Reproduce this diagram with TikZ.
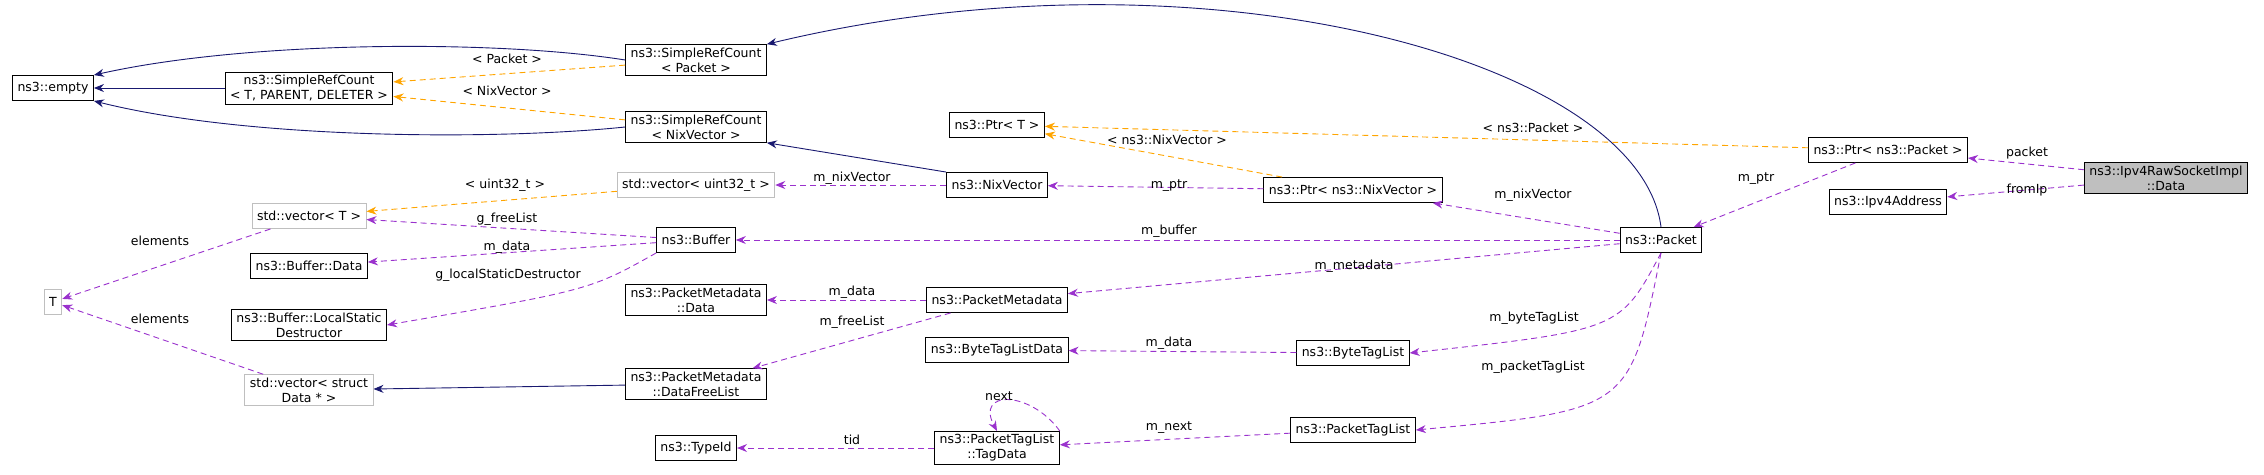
\documentclass[tikz,border=0pt]{standalone}
\usepackage{fontspec}
\setmainfont{DejaVu Sans}
\usetikzlibrary{arrows.meta}

\definecolor{inhcol}{HTML}{191970}
\definecolor{usecol}{HTML}{9A32CD}
\definecolor{tplcol}{HTML}{FFA500}
\definecolor{grycol}{HTML}{BFBFBF}

\tikzset{
	box/.style={draw=black, line width=0.9pt, fill=white, inner xsep=5pt, inner ysep=3pt, minimum height=25pt, align=center, font=\fontsize{12.5}{15}\selectfont},
	gbox/.style={box, draw=grycol},
	mainbox/.style={box, fill=grycol},
	lbl/.style={inner sep=1pt, font=\fontsize{12.5}{14}\selectfont},
	tip/.style={-{Stealth[length=10pt,width=8pt]}},
	inh/.style={tip, draw=inhcol, line width=0.9pt},
	use/.style={tip, draw=usecol, dash pattern=on 6pt off 4pt, line width=0.9pt},
	tpl/.style={tip, draw=tplcol, dash pattern=on 6pt off 4pt, line width=0.9pt}
}

\begin{document}
\begin{tikzpicture}[x=1pt, y=-1pt]
		\useasboundingbox (0,0) rectangle (2264,474);

		\node[box]  (empty)    at (  53, 88) {ns3::empty};
		\node[box]  (srcTPD)   at ( 309, 88) {ns3::SimpleRefCount\\< T, PARENT, DELETER >};
		\node[box]  (srcPkt)   at ( 696, 60) {ns3::SimpleRefCount\\< Packet >};
		\node[box]  (srcNix)   at ( 696,127) {ns3::SimpleRefCount\\< NixVector >};
		\node[gbox] (vecU32)   at ( 696,185) {std::vector< uint32\_t >};
		\node[gbox] (vecT)     at ( 309,216) {std::vector< T >};
		\node[box]  (buffer)   at ( 696,240) {ns3::Buffer};
		\node[box]  (bufData)  at ( 309,266) {ns3::Buffer::Data};
		\node[box]  (bufLsd)   at ( 309,325) {ns3::Buffer::LocalStatic\\Destructor};
		\node[gbox] (tT)       at (  53,302) {T};
		\node[gbox] (vecData)  at ( 309,390) {std::vector< struct\\Data * >};
		\node[box]  (pmData)   at ( 696,300) {ns3::PacketMetadata\\::Data};
		\node[box]  (pmFree)   at ( 696,384) {ns3::PacketMetadata\\::DataFreeList};
		\node[box]  (typeId)   at ( 696,448) {ns3::TypeId};

		\node[box]  (ptrT)     at ( 997,125) {ns3::Ptr< T >};
		\node[box]  (nixVec)   at ( 997,185) {ns3::NixVector};
		\node[box]  (ptrNix)   at (1353,190) {ns3::Ptr< ns3::NixVector >};
		\node[box]  (pktMeta)  at ( 997,300) {ns3::PacketMetadata};
		\node[box]  (btlData)  at ( 997,350) {ns3::ByteTagListData};
		\node[box]  (tagData)  at ( 997,448) {ns3::PacketTagList\\::TagData};
		\node[box]  (btl)      at (1353,353) {ns3::ByteTagList};
		\node[box]  (ptl)      at (1353,430) {ns3::PacketTagList};
		\node[box]  (packet)   at (1661,240) {ns3::Packet};

		\node[box]  (ptrPkt)   at (1888,150) {ns3::Ptr< ns3::Packet >};
		\node[box]  (ipv4Addr) at (1888,202) {ns3::Ipv4Address};
		\node[mainbox] (rawData) at (2166,178) {ns3::Ipv4RawSocketImpl\\::Data};

		% inheritance
		\draw[inh] (srcPkt.west) .. controls (500,40) and (250,40) .. (empty.north east);
		\draw[inh] (srcTPD) -- (empty);
		\draw[inh] (srcNix.west) .. controls (500,140) and (250,140) .. (empty.south east);
		\draw[inh] (packet.north) .. controls (1640,60) and (1200,-60) .. (srcPkt.north east);
		\draw[inh] (nixVec.north west) -- (srcNix.south east);
		\draw[inh] (pmFree) -- (vecData);

		% templates
		\draw[tpl] (srcPkt) -- (srcTPD);
		\draw[tpl] (srcNix) -- (srcTPD);
		\draw[tpl] (vecU32) -- (vecT);
		\draw[tpl] (ptrPkt) -- (ptrT);
		\draw[tpl] (ptrNix) -- (ptrT);

		% usage
		\draw[use] (vecT) -- (tT);
		\draw[use] (vecData) -- (tT);
		\draw[use] (buffer) -- (vecT);
		\draw[use] (buffer) -- (bufData);
		\draw[use] (buffer.south west) .. controls (590,290) .. (bufLsd.east);
		\draw[use] (nixVec) -- (vecU32);
		\draw[use] (ptrNix) -- (nixVec);
		\draw[use] (packet) -- (ptrNix);
		\draw[use] (packet) -- (buffer);
		\draw[use] (packet) -- (pktMeta);
		\draw[use] (pktMeta) -- (pmData);
		\draw[use] (pktMeta) -- (pmFree);
		\draw[use] (btl) -- (btlData);
		\draw[use] (packet.south) .. controls (1620,330) .. (btl.east);
		\draw[use] (packet.south) .. controls (1630,410) .. (ptl.east);
		\draw[use] (ptl) -- (tagData);
		\draw[use] (tagData.north east) .. controls (1030,390) and (975,390) .. (tagData.north);
		\draw[use] (tagData) -- (typeId);
		\draw[use] (ptrPkt) -- (packet);
		\draw[use] (rawData) -- (ptrPkt);
		\draw[use] (rawData) -- (ipv4Addr);

		% labels
		\node[lbl] (lPkt)   at ( 507, 59) {< Packet >};
		\node[lbl] (lNix)   at ( 507, 91) {< NixVector >};
		\node[lbl] (lU32)   at ( 505,185) {< uint32\_t >};
		\node[lbl] (lFree)  at ( 507,219) {g\_freeList};
		\node[lbl] (lBData) at ( 507,247) {m\_data};
		\node[lbl] (lLsd)   at ( 508,275) {g\_localStaticDestructor};
		\node[lbl] (lElA)   at ( 160,241) {elements};
		\node[lbl] (lElB)   at ( 160,319) {elements};
		\node[lbl] (lNixV)  at ( 852,178) {m\_nixVector};
		\node[lbl] (lPmD)   at ( 852,292) {m\_data};
		\node[lbl] (lPmF)   at ( 852,322) {m\_freeList};
		\node[lbl] (lTid)   at ( 852,440) {tid};
		\node[lbl] (lPPkt)  at (1533,128) {< ns3::Packet >};
		\node[lbl] (lPNix)  at (1167,140) {< ns3::NixVector >};
		\node[lbl] (lPtrN)  at (1169,186) {m\_ptr};
		\node[lbl] (lNixP)  at (1533,195) {m\_nixVector};
		\node[lbl] (lBuf)   at (1169,231) {m\_buffer};
		\node[lbl] (lMeta)  at (1354,266) {m\_metadata};
		\node[lbl] (lBtlD)  at (1169,343) {m\_data};
		\node[lbl] (lBtl)   at (1534,318) {m\_byteTagList};
		\node[lbl] (lPtl)   at (1533,367) {m\_packetTagList};
		\node[lbl] (lNext)  at (1169,428) {m\_next};
		\node[lbl] (lNx)    at ( 999,396) {next};
		\node[lbl] (lPtrP)  at (1756,179) {m\_ptr};
		\node[lbl] (lPack)  at (2027,153) {packet};
		\node[lbl] (lFrom)  at (2027,190) {fromIp};

\end{tikzpicture}
\end{document}
